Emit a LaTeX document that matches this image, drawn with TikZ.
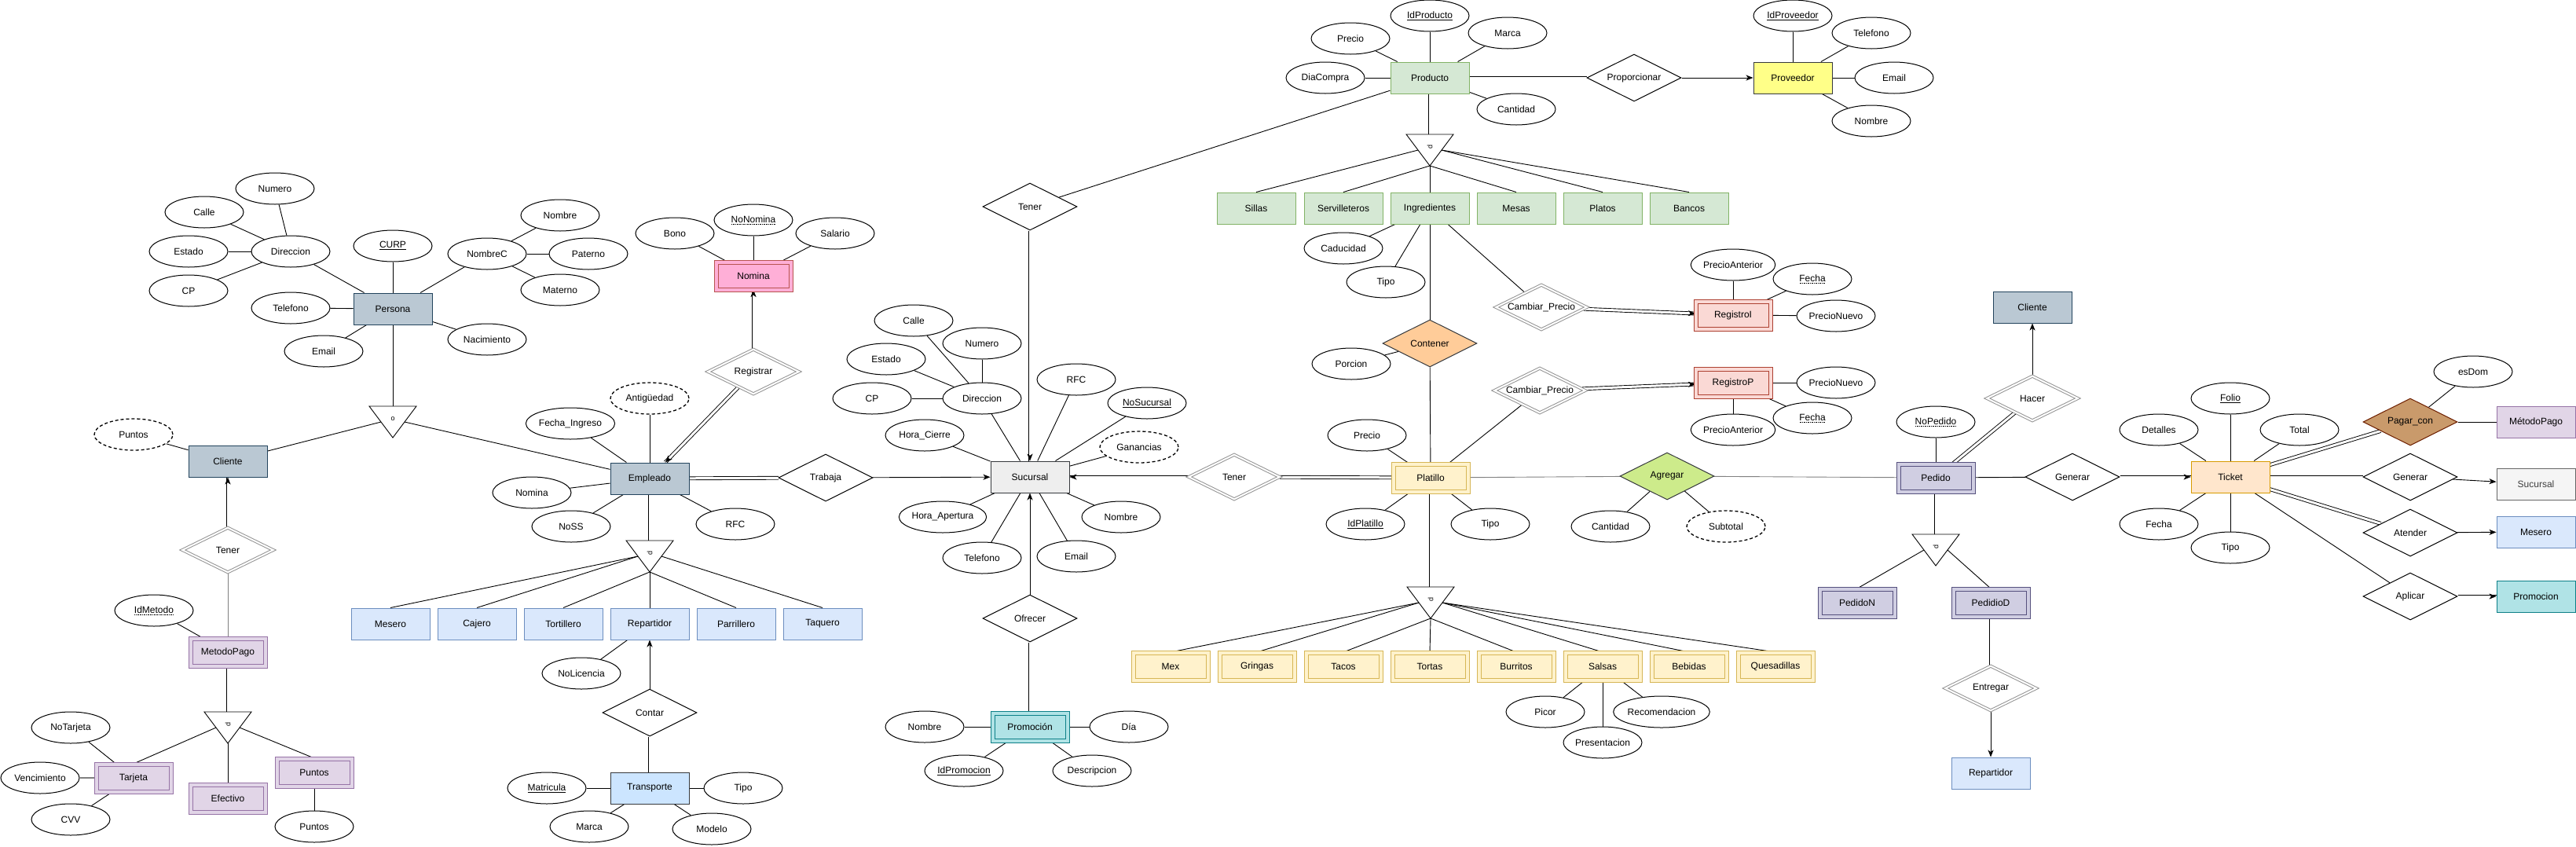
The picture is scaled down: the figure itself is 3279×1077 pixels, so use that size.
\documentclass[tikz,border=0pt]{standalone}
\usepackage{fontspec}
\setmainfont{Liberation Sans}
\usetikzlibrary{shapes.geometric,arrows.meta}
\pgfdeclarelayer{bg}
\pgfsetlayers{bg,main}
\newbox\myulbox
\newcommand\dotul[1]{\setbox\myulbox\hbox{#1}\leavevmode\hbox{\rlap{\copy\myulbox}\lower2.6pt\hbox to \wd\myulbox{\xleaders\hbox to 1.6pt{\hss\vrule width 0.8pt height 0.7pt\hss}\hfill}}}
\newcommand\solul[1]{\setbox\myulbox\hbox{#1}\leavevmode\hbox{\rlap{\copy\myulbox}\lower2.4pt\hbox to \wd\myulbox{\vrule width \wd\myulbox height 0.9pt}}}
\definecolor{perF}{HTML}{BAC8D3}\definecolor{perD}{HTML}{23445D}
\definecolor{bluF}{HTML}{DAE8FC}\definecolor{bluD}{HTML}{6C8EBF}
\definecolor{trF}{HTML}{CCE5FF}\definecolor{drk}{HTML}{36393D}
\definecolor{pinkF}{HTML}{FFAFD7}\definecolor{redD}{HTML}{B85450}
\definecolor{gryF}{HTML}{EEEEEE}
\definecolor{grnF}{HTML}{D5E8D4}\definecolor{grnD}{HTML}{82B366}
\definecolor{yelF}{HTML}{FFFF88}
\definecolor{orgF}{HTML}{FFCC99}
\definecolor{regF}{HTML}{FAD9D5}\definecolor{regD}{HTML}{AE4132}
\definecolor{plF}{HTML}{FFF2CC}\definecolor{plD}{HTML}{D6B656}
\definecolor{agF}{HTML}{CDEB8B}
\definecolor{peF}{HTML}{D0CEE2}\definecolor{peD}{HTML}{56517E}
\definecolor{tkF}{HTML}{FFE6CC}\definecolor{tkD}{HTML}{D79B00}
\definecolor{pcF}{HTML}{C99A6B}\definecolor{pcD}{HTML}{6D1F00}
\definecolor{mpF}{HTML}{E1D5E7}\definecolor{mpD}{HTML}{9673A6}
\definecolor{prF}{HTML}{B0E3E6}\definecolor{prD}{HTML}{0E8088}
\definecolor{sgF}{HTML}{F5F5F5}\definecolor{sgD}{HTML}{666666}
\tikzset{
 base/.style={font=\fontsize{12}{14}\selectfont, inner sep=0pt, line width=1pt},
 attr/.style={base, ellipse, draw, fill=white, minimum width=100pt, minimum height=40pt},
 dattr/.style={attr, dash pattern=on 4pt off 3pt, line width=1.3pt},
 ent/.style 2 args={base, rectangle, draw=#2, fill=#1, minimum width=100pt, minimum height=40pt},
 wk/.style 2 args={base, rectangle, draw=#2, fill=#1, double=#1, double distance=4pt, minimum width=95pt, minimum height=35pt},
 rel/.style={base, diamond, draw, fill=white, minimum width=120pt, minimum height=60pt, aspect=2},
 relc/.style 2 args={rel, fill=#1, draw=#2},
 drel/.style={base, diamond, draw=gray!85, fill=white, double=white, double distance=2pt, line width=1pt, minimum width=116pt, minimum height=57pt, aspect=2},
 ln/.style={line width=0.9pt},
 dbl/.style={double, double distance=3pt, line width=0.9pt},
 arr/.style={ln, -{Stealth[length=9pt,width=7pt,inset=2.5pt]}},
 tipln/.style={white, line width=0.3pt, -{Stealth[color=black,length=9pt,width=7pt,inset=2.5pt]}},
}
\newcommand\dblarrow[2]{\draw[dbl] (#1) -- (#2); \draw[tipln] (#1) -- (#2);}
\newcommand\isatri[5]{%
 \draw[line width=0.9pt, fill=white] (#2-30,#3) -- (#2+30,#3) -- (#2,#3+40) -- cycle;
 \coordinate (#1t) at (#2,#3);
 \coordinate (#1l) at (#2-15,#3+20);
 \coordinate (#1r) at (#2+15,#3+20);
 \coordinate (#1b) at (#2,#3+40);
 \node[font=\fontsize{9}{9}\selectfont, rotate=#5, inner sep=0pt] (#1lab) at (#2,#3+16) {#4};}
\begin{document}
\begin{tikzpicture}[x=1pt,y=-1pt]
\useasboundingbox (0,0) rectangle (3279,1077);
% ---------- Persona / Cliente ----------
\node[attr] (NumeroP) at (350,240) {Numero};
\node[attr] (CalleP) at (260,270) {Calle};
\node[attr] (EstadoP) at (240,320) {Estado};
\node[attr] (DirP) at (370,320) {Direccion};
\node[attr] (CPP) at (240,370) {CP};
\node[attr] (CURP) at (500,313) {\solul{CURP}};
\node[attr] (NombreC) at (620,323) {NombreC};
\node[attr] (NomN) at (713,274) {Nombre};
\node[attr] (Paterno) at (749,323) {Paterno};
\node[attr] (Materno) at (713,369) {Materno};
\node[ent={perF}{perD}] (Persona) at (500,393) {Persona};
\node[attr] (TelP) at (370,392) {Telefono};
\node[attr] (EmailP) at (412,447) {Email};
\node[attr] (Nacimiento) at (620,432) {Nacimiento};
\isatri{isaP}{500}{517}{o}{0}
\node[dattr] (PuntosD) at (170,553) {Puntos};
\node[ent={perF}{perD}] (Cliente) at (290,587) {Cliente};
\node[drel] (TenerC) at (290,700) {Tener};
\node[attr] (IdMetodo) at (196,777) {\dotul{IdMetodo}};
\node[wk={mpF}{mpD}] (MetodoPago) at (290,830) {MetodoPago};
\isatri{isaM}{290}{906}{p}{-90}
\node[wk={mpF}{mpD}] (Tarjeta) at (170,990) {Tarjeta};
\node[attr] (NoTarjeta) at (90,926) {NoTarjeta};
\node[attr] (Vencimiento) at (51,990) {Vencimiento};
\node[attr] (CVV) at (90,1043) {CVV};
\node[wk={mpF}{mpD}] (Efectivo) at (290,1016) {Efectivo};
\node[wk={mpF}{mpD}] (PuntosW) at (400,983) {Puntos};
\node[attr] (PuntosA) at (400,1052) {Puntos};
% ---------- Empleado ----------
\node[attr] (FechaIng) at (726,539) {Fecha\_Ingreso};
\node[dattr] (Antig) at (827,507) {Antigüedad};
\node[ent={perF}{perD}] (Empleado) at (827,609) {Empleado};
\node[attr] (NominaA) at (677,627) {Nomina};
\node[attr] (NoSS) at (727,670) {NoSS};
\node[attr] (RFCE) at (936,667) {RFC};
\node[drel] (Registrar) at (959,473) {Registrar};
\node[wk={pinkF}{redD}] (Nomina) at (959,351) {Nomina};
\node[attr] (Bono) at (859,297) {Bono};
\node[attr] (NoNomina) at (959,280) {\dotul{NoNomina}};
\node[attr] (Salario) at (1063,297) {Salario};
\node[rel] (Trabaja) at (1051,608) {Trabaja};
\isatri{isaE}{827}{688}{p}{-90}
\node[ent={bluF}{bluD}] (Mesero) at (497,794) {Mesero};
\node[ent={bluF}{bluD}] (Cajero) at (607,794) {Cajero};
\node[ent={bluF}{bluD}] (Tortillero) at (717,794) {Tortillero};
\node[ent={bluF}{bluD}] (RepE) at (827,794) {Repartidor};
\node[ent={bluF}{bluD}] (Parrillero) at (937,794) {Parrillero};
\node[ent={bluF}{bluD}] (Taquero) at (1047,794) {Taquero};
\node[attr] (NoLicencia) at (740,857) {NoLicencia};
\node[rel] (Contar) at (827,907) {Contar};
\node[ent={trF}{drk}] (Transporte) at (827,1003) {Transporte};
\node[attr] (Matricula) at (696,1003) {\solul{Matricula}};
\node[attr] (TipoTr) at (946,1003) {Tipo};
\node[attr] (MarcaTr) at (750,1052) {Marca};
\node[attr] (Modelo) at (906,1055) {Modelo};
% ---------- Sucursal ----------
\node[ent={gryF}{drk}] (Sucursal) at (1311,607) {Sucursal};
\node[rel] (TenerT) at (1311,263) {Tener};
\node[attr] (CalleS) at (1163,408) {Calle};
\node[attr] (NumeroS) at (1250,437) {Numero};
\node[attr] (EstadoS) at (1128,457) {Estado};
\node[attr] (CPS) at (1110,507) {CP};
\node[attr] (DirS) at (1250,507) {Direccion};
\node[attr] (RFCS) at (1370,483) {RFC};
\node[attr] (NoSuc) at (1460,513) {\solul{NoSucursal}};
\node[attr] (HoraC) at (1177,554) {Hora\_Cierre};
\node[dattr] (Ganancias) at (1450,569) {Ganancias};
\node[attr] (HoraA) at (1200,658) {Hora\_Apertura};
\node[attr] (TelS) at (1250,710) {Telefono};
\node[attr] (EmailS) at (1370,708) {Email};
\node[attr] (NombreS) at (1427,658) {Nombre};
\node[rel] (Ofrecer) at (1311,787) {Ofrecer};
\node[wk={prF}{prD}] (Promocion) at (1311,925) {Promoción};
\node[attr] (NombrePr) at (1177,925) {Nombre};
\node[attr] (Dia) at (1437,925) {Día};
\node[attr] (IdPromocion) at (1227,981) {\solul{IdPromocion}};
\node[attr] (Descripcion) at (1390,981) {Descripcion};
\node[drel] (Tener2) at (1571,607) {Tener};
% ---------- Producto ----------
\node[ent={grnF}{grnD}] (Producto) at (1820,99) {Producto};
\node[attr] (IdProd) at (1820,20) {\solul{IdProducto}};
\node[attr] (PrecioPr) at (1719,49) {Precio};
\node[attr] (MarcaPr) at (1919,42) {Marca};
\node[attr] (DiaCompra) at (1687,99) {DiaCompra};
\node[attr] (CantPr) at (1930,139) {Cantidad};
\node[rel] (Proporcionar) at (2080,99) {Proporcionar};
\node[ent={yelF}{drk}] (Proveedor) at (2282,99) {Proveedor};
\node[attr] (IdProv) at (2282,20) {\solul{IdProveedor}};
\node[attr] (TelPv) at (2382,42) {Telefono};
\node[attr] (EmailPv) at (2411,99) {Email};
\node[attr] (NombrePv) at (2382,154) {Nombre};
\isatri{isaPr}{1820}{171}{p}{-90}
\node[ent={grnF}{grnD}] (Sillas) at (1599,265) {Sillas};
\node[ent={grnF}{grnD}] (Servilleteros) at (1710,265) {Servilleteros};
\node[ent={grnF}{grnD}] (Ingredientes) at (1820,265) {Ingredientes};
\node[ent={grnF}{grnD}] (Mesas) at (1930,265) {Mesas};
\node[ent={grnF}{grnD}] (Platos) at (2040,265) {Platos};
\node[ent={grnF}{grnD}] (Bancos) at (2150,265) {Bancos};
\node[attr] (Caducidad) at (1710,316) {Caducidad};
\node[attr] (TipoI) at (1764,359) {Tipo};
\node[drel] (CambiarI) at (1962,391) {Cambiar\_Precio};
\node[wk={regF}{regD}] (RegistroI) at (2206,401) {RegistroI};
\node[attr] (PrecioAntI) at (2206,337) {PrecioAnterior};
\node[attr] (FechaI) at (2307,355) {\dotul{Fecha}};
\node[attr] (PrecioNuevoI) at (2337,402) {PrecioNuevo};
\node[relc={orgF}{drk}] (Contener) at (1820,437) {Contener};
\node[attr] (Porcion) at (1720,463) {Porcion};
% ---------- Platillo ----------
\node[wk={plF}{plD}] (Platillo) at (1821,608) {Platillo};
\node[attr] (PrecioPl) at (1740,554) {Precio};
\node[attr] (IdPlatillo) at (1738,667) {\solul{IdPlatillo}};
\node[attr] (TipoPl) at (1897,667) {Tipo};
\node[drel] (CambiarP) at (1960,497) {Cambiar\_Precio};
\node[wk={regF}{regD}] (RegistroP) at (2206,487) {RegistroP};
\node[attr] (PrecioNuevoP) at (2337,487) {PrecioNuevo};
\node[attr] (PrecioAntP) at (2206,547) {PrecioAnterior};
\node[attr] (FechaP) at (2307,532) {\dotul{Fecha}};
\node[relc={agF}{drk}] (Agregar) at (2122,606) {Agregar};
\node[attr] (CantAg) at (2050,670) {Cantidad};
\node[dattr] (Subtotal) at (2197,670) {Subtotal};
\isatri{isaPl}{1821}{747}{p}{-90}
\node[wk={plF}{plD}] (Mex) at (1490,848) {Mex};
\node[wk={plF}{plD}] (Gringas) at (1600,848) {Gringas};
\node[wk={plF}{plD}] (Tacos) at (1710,848) {Tacos};
\node[wk={plF}{plD}] (Tortas) at (1820,848) {Tortas};
\node[wk={plF}{plD}] (Burritos) at (1930,848) {Burritos};
\node[wk={plF}{plD}] (Salsas) at (2040,848) {Salsas};
\node[wk={plF}{plD}] (Bebidas) at (2150,848) {Bebidas};
\node[wk={plF}{plD}] (Quesadillas) at (2260,848) {Quesadillas};
\node[attr] (Picor) at (1967,906) {Picor};
\node[attr] (Presentacion) at (2040,945) {Presentacion};
\node[attr] (Recomendacion) at (2115,906) {Recomendacion};
% ---------- Pedido / Ticket ----------
\node[ent={perF}{perD}] (ClienteR) at (2587,391) {Cliente};
\node[drel] (Hacer) at (2587,507) {Hacer};
\node[attr] (NoPedido) at (2464,537) {\dotul{NoPedido}};
\node[wk={peF}{peD}] (Pedido) at (2464,608) {Pedido};
\node[rel] (Generar) at (2638,607) {Generar};
\node[ent={tkF}{tkD}] (Ticket) at (2839,607) {Ticket};
\node[attr] (Folio) at (2839,507) {\solul{Folio}};
\node[attr] (Detalles) at (2748,547) {Detalles};
\node[attr] (Total) at (2927,547) {Total};
\node[attr] (FechaT) at (2748,667) {Fecha};
\node[attr] (TipoT) at (2839,697) {Tipo};
\node[attr] (esDom) at (3148,473) {esDom};
\node[relc={pcF}{pcD}] (PagarCon) at (3068,537) {Pagar\_con};
\node[ent={mpF}{mpD}] (MetodoPagoR) at (3228,537) {MétodoPago};
\node[rel] (Generar2) at (3068,607) {Generar};
\node[ent={sgF}{sgD}, text=black!75] (SucursalR) at (3228,616) {Sucursal};
\node[rel] (Atender) at (3068,678) {Atender};
\node[ent={bluF}{bluD}] (MeseroR) at (3228,677) {Mesero};
\node[rel] (Aplicar) at (3068,759) {Aplicar};
\node[ent={prF}{prD}] (PromocionR) at (3228,759) {Promocion};
\isatri{isaPe}{2464}{680}{p}{-90}
\node[wk={peF}{peD}] (PedidoN) at (2364,767) {PedidoN};
\node[wk={peF}{peD}] (PedidioD) at (2534,767) {PedidioD};
\node[drel] (Entregar) at (2534,876) {Entregar};
\node[ent={bluF}{bluD}] (RepR) at (2534,984) {Repartidor};
% ---------- connectors ----------
\begin{pgfonlayer}{bg}
\draw[ln] (NumeroP) -- (DirP); \draw[ln] (CalleP) -- (DirP); \draw[ln] (EstadoP) -- (DirP); \draw[ln] (CPP) -- (DirP);
\draw[ln] (DirP) -- (Persona); \draw[ln] (CURP) -- (Persona); \draw[ln] (NombreC) -- (Persona);
\draw[ln] (NombreC) -- (NomN); \draw[ln] (NombreC) -- (Paterno); \draw[ln] (NombreC) -- (Materno);
\draw[ln] (TelP) -- (Persona); \draw[ln] (EmailP) -- (Persona); \draw[ln] (Nacimiento) -- (Persona);
\draw[ln] (Persona) -- (isaPt); \draw[ln] (isaPl) -- (Cliente); \draw[ln] (isaPr) -- (Empleado);
\draw[ln] (PuntosD) -- (Cliente);
\dblarrow{TenerC}{Cliente}
\draw[ln, gray] (TenerC) -- (MetodoPago);
\draw[ln] (IdMetodo) -- (MetodoPago);
\draw[dbl] (MetodoPago) -- (isaMt);
\draw[ln] (isaMl) -- (Tarjeta.north); \draw[ln] (isaMb) -- (Efectivo.north); \draw[ln] (isaMr) -- (PuntosW.north);
\draw[ln] (NoTarjeta) -- (Tarjeta); \draw[line width=2pt, gray] (Vencimiento) -- (Tarjeta); \draw[ln] (CVV) -- (Tarjeta);
\draw[ln] (PuntosW) -- (PuntosA);
\draw[ln] (FechaIng) -- (Empleado); \draw[ln] (Antig) -- (Empleado); \draw[ln] (NominaA) -- (Empleado);
\draw[ln] (NoSS) -- (Empleado); \draw[ln] (RFCE) -- (Empleado);
\dblarrow{Registrar}{Nomina}
\dblarrow{Registrar}{Empleado}
\draw[ln] (Bono) -- (Nomina); \draw[ln] (NoNomina) -- (Nomina); \draw[ln] (Salario) -- (Nomina);
\draw[dbl] (Empleado) -- (Trabaja); \draw[arr] (Trabaja) -- (Sucursal);
\draw[dbl] (Empleado) -- (isaEt);
\draw[ln] (isaEl) -- (Mesero.north); \draw[ln] (isaEl) -- (Cajero.north); \draw[ln] (isaEb) -- (Tortillero.north);
\draw[ln] (isaEb) -- (RepE.north); \draw[ln] (isaEb) -- (Parrillero.north); \draw[ln] (isaEr) -- (Taquero.north);
\draw[ln] (NoLicencia) -- (RepE); \draw[arr] (Contar) -- (RepE); \draw[dbl] (Contar) -- (Transporte);
\draw[ln] (Matricula) -- (Transporte); \draw[ln] (TipoTr) -- (Transporte); \draw[ln] (MarcaTr) -- (Transporte); \draw[ln] (Modelo) -- (Transporte);
\dblarrow{TenerT}{Sucursal}
\draw[ln] (TenerT) -- (Producto);
\draw[ln] (CalleS) -- (DirS); \draw[ln] (NumeroS) -- (DirS); \draw[ln] (EstadoS) -- (DirS); \draw[ln] (CPS) -- (DirS);
\draw[ln] (DirS) -- (Sucursal); \draw[ln] (RFCS) -- (Sucursal); \draw[ln] (NoSuc) -- (Sucursal); \draw[ln] (HoraC) -- (Sucursal);
\draw[ln] (Ganancias) -- (Sucursal); \draw[ln] (HoraA) -- (Sucursal); \draw[ln] (TelS) -- (Sucursal); \draw[ln] (EmailS) -- (Sucursal); \draw[ln] (NombreS) -- (Sucursal);
\draw[arr] (Ofrecer) -- (Sucursal); \draw[dbl] (Ofrecer) -- (Promocion);
\draw[ln] (NombrePr) -- (Promocion); \draw[ln] (Dia) -- (Promocion); \draw[ln] (IdPromocion) -- (Promocion); \draw[ln] (Descripcion) -- (Promocion);
\dblarrow{Tener2}{Sucursal}
\draw[dbl] (Tener2) -- (Platillo);
\draw[ln] (IdProd) -- (Producto); \draw[ln] (PrecioPr) -- (Producto); \draw[ln] (MarcaPr) -- (Producto); \draw[ln] (DiaCompra) -- (Producto); \draw[ln] (CantPr) -- (Producto);
\draw[dbl] (Producto) -- (Proporcionar); \draw[arr] (Proporcionar) -- (Proveedor);
\draw[ln] (IdProv) -- (Proveedor); \draw[ln] (TelPv) -- (Proveedor); \draw[ln] (EmailPv) -- (Proveedor); \draw[ln] (NombrePv) -- (Proveedor);
\draw[dbl] (Producto) -- (isaPrt);
\draw[ln] (isaPrl) -- (Sillas.north); \draw[ln] (isaPrb) -- (Servilleteros.north); \draw[ln] (isaPrb) -- (Ingredientes.north);
\draw[ln] (isaPrb) -- (Mesas.north); \draw[ln] (isaPrr) -- (Platos.north); \draw[ln] (isaPrr) -- (Bancos.north);
\draw[ln] (Caducidad) -- (Ingredientes); \draw[ln] (TipoI) -- (Ingredientes); \draw[ln] (Ingredientes) -- (Contener); \draw[ln] (Ingredientes) -- (CambiarI);
\dblarrow{CambiarI}{RegistroI}
\draw[ln] (PrecioAntI) -- (RegistroI); \draw[ln] (FechaI) -- (RegistroI); \draw[ln] (PrecioNuevoI) -- (RegistroI);
\draw[ln] (Porcion) -- (Contener); \draw[ln] (Contener) -- (Platillo);
\draw[ln] (PrecioPl) -- (Platillo); \draw[ln] (IdPlatillo) -- (Platillo); \draw[ln] (TipoPl) -- (Platillo);
\draw[ln] (Platillo) -- (CambiarP);
\dblarrow{CambiarP}{RegistroP}
\draw[ln] (PrecioNuevoP) -- (RegistroP); \draw[ln] (PrecioAntP) -- (RegistroP); \draw[ln] (FechaP) -- (RegistroP);
\draw[ln, gray] (Platillo) -- (Agregar); \draw[ln, gray] (Agregar) -- (Pedido);
\draw[ln] (CantAg) -- (Agregar); \draw[ln] (Subtotal) -- (Agregar);
\draw[dbl] (Platillo) -- (isaPlt);
\draw[ln] (isaPll) -- (Mex.north); \draw[ln] (isaPll) -- (Gringas.north); \draw[ln] (isaPlb) -- (Tacos.north); \draw[ln] (isaPlb) -- (Tortas.north);
\draw[ln] (isaPlb) -- (Burritos.north); \draw[ln] (isaPlr) -- (Salsas.north); \draw[ln] (isaPlr) -- (Bebidas.north); \draw[ln] (isaPlr) -- (Quesadillas.north);
\draw[ln] (Picor) -- (Salsas); \draw[ln] (Presentacion) -- (Salsas); \draw[ln] (Recomendacion) -- (Salsas);
\draw[arr] (Hacer) -- (ClienteR); \draw[dbl] (Hacer) -- (Pedido);
\draw[ln] (NoPedido) -- (Pedido); \draw[ln] (Pedido) -- (Generar);
\dblarrow{Generar}{Ticket}
\draw[dbl] (Pedido) -- (isaPet); \draw[ln] (isaPel) -- (PedidoN.north); \draw[ln] (isaPer) -- (PedidioD.north);
\draw[dbl] (PedidioD) -- (Entregar); \draw[arr] (Entregar) -- (RepR);
\draw[ln] (Folio) -- (Ticket); \draw[ln] (Detalles) -- (Ticket); \draw[ln] (Total) -- (Ticket); \draw[ln] (FechaT) -- (Ticket); \draw[ln] (TipoT) -- (Ticket);
\draw[dbl] (Ticket) -- (PagarCon); \draw[ln] (PagarCon) -- (MetodoPagoR); \draw[ln] (esDom) -- (PagarCon);
\draw[dbl] (Ticket) -- (Generar2); \draw[arr] (Generar2) -- (SucursalR);
\draw[dbl] (Ticket) -- (Atender); \draw[arr] (Atender) -- (MeseroR);
\draw[ln] (Ticket) -- (Aplicar);
\dblarrow{Aplicar}{PromocionR}
\end{pgfonlayer}
\end{tikzpicture}
\end{document}
